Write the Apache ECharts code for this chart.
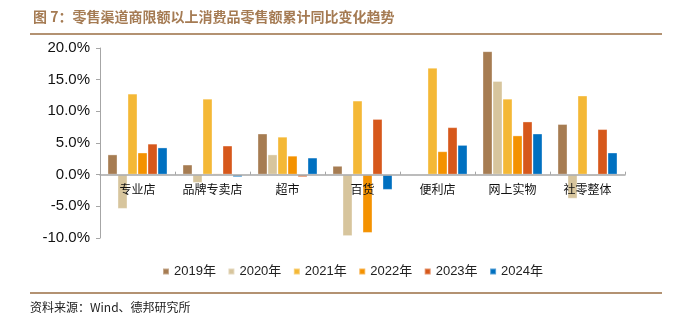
<!DOCTYPE html>
<html>
<head>
<meta charset="utf-8">
<script src="https://cdn.jsdelivr.net/npm/echarts@6/dist/echarts.min.js"></script>
<style>html,body{margin:0;padding:0;background:#fff}#c{width:673px;height:323px}</style>
</head>
<body>
<div id="c"></div>
<script>
const categories = ['专业店', '品牌专卖店', '超市', '百货', '便利店', '网上实物', '社零整体'];
const seriesNames = ['2019年', '2020年', '2021年', '2022年', '2023年', '2024年'];
const v2019 = [3.2, 1.6, 6.5, 1.4, 0, 19.5, 8.0];
const v2020 = [-5.4, -1.3, 3.2, -9.7, 0, 14.8, -3.8];
const v2021 = [12.8, 12.0, 6.0, 11.7, 16.9, 12.0, 12.5];
const v2022 = [3.5, 0.2, 3.0, -9.2, 3.7, 6.2, -0.2];
const v2023 = [4.9, 4.6, -0.4, 8.8, 7.5, 8.4, 7.2];
const v2024 = [4.3, -0.4, 2.7, -2.4, 4.7, 6.5, 3.5];
const yTicks = [-10, -5, 0, 5, 10, 15, 20];
const colors = ['#a67c52', '#d7c59d', '#f4b836', '#f49200', '#d6581b', '#0070c0'];
const values = [v2019, v2020, v2021, v2022, v2023, v2024];

const gridTop = 48, gridBottom = 85, H = 323;
const yMin = yTicks[0], yMax = yTicks[yTicks.length - 1];
const plotH = H - gridTop - gridBottom;
const zeroOffset = -plotH * (0 - yMin) / (yMax - yMin);

const chart = echarts.init(document.getElementById('c'));
chart.setOption({
  animation: false,
  color: colors,
  title: {
    text: '图 7：零售渠道商限额以上消费品零售额累计同比变化趋势',
    left: 28, top: 5,
    textStyle: { fontSize: 14, fontWeight: 'bold', color: '#a57b53', fontFamily: 'Noto Sans CJK SC' }
  },
  graphic: [
    { type: 'line', shape: { x1: 30, y1: 34, x2: 662, y2: 34 }, style: { stroke: '#b39272', lineWidth: 2 } },
    { type: 'line', shape: { x1: 30, y1: 293, x2: 662, y2: 293 }, style: { stroke: '#b39272', lineWidth: 2 } },
    { type: 'text', left: 30, top: 301, style: { text: '资料来源：Wind、德邦研究所', fontSize: 12, fill: '#222', fontFamily: 'Noto Sans CJK SC' } }
  ],
  legend: {
    data: seriesNames,
    top: 260,
    left: 157,
    itemWidth: 6, itemHeight: 6, itemGap: 11.5,
    icon: 'rect',
    textStyle: { fontSize: 13, color: '#222', fontFamily: 'Liberation Sans, Noto Sans CJK SC' }
  },
  grid: { left: 100, right: 48, top: gridTop, bottom: gridBottom },
  xAxis: {
    type: 'category',
    data: categories,
    offset: zeroOffset,
    axisLine: { onZero: false, lineStyle: { color: '#a6a6a6', width: 1.5 } },
    axisTick: { show: true, inside: true, length: 3, lineStyle: { color: '#a6a6a6' } },
    axisLabel: { interval: 0, fontSize: 12, color: '#111', margin: 9, fontFamily: 'Noto Sans CJK SC' },
    z: 10
  },
  yAxis: {
    type: 'value',
    min: yMin, max: yMax, interval: 5,
    splitLine: { show: false },
    axisLine: { show: true, lineStyle: { color: '#a6a6a6' } },
    axisTick: { show: true, length: 4, lineStyle: { color: '#a6a6a6' } },
    axisLabel: { fontSize: 15, color: '#111', margin: 10, fontFamily: 'Liberation Sans', formatter: v => v.toFixed(1) + '%' }
  },
  series: seriesNames.map((n, i) => ({
    name: n,
    type: 'bar',
    data: values[i],
    barGap: '0%',
    barCategoryGap: '20%',
    itemStyle: { color: colors[i], borderColor: 'rgba(255,255,255,0.35)', borderWidth: 1 }
  }))
});
</script>
</body>
</html>
